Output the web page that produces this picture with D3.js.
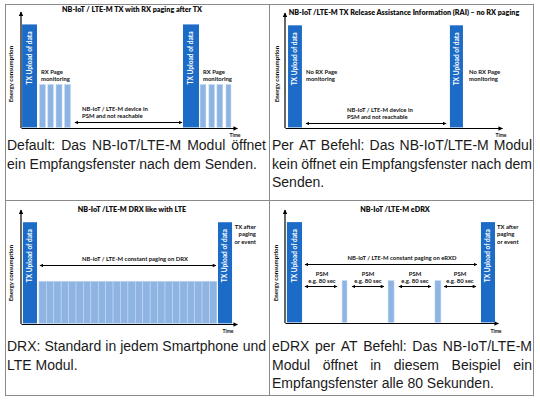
<!DOCTYPE html>
<html><head><meta charset="utf-8">
<script src="https://cdn.jsdelivr.net/npm/d3@7"></script>
<style>body{margin:0;background:#fff}svg{display:block}</style>
</head><body><svg id="c" width="540" height="401"></svg>
<script>
// ---------- data ----------
const titles = [
  "NB-IoT / LTE-M TX with RX paging after TX",
  "NB-IoT /LTE-M TX Release Assistance Information (RAI) \u2013 no RX paging",
  "NB-IoT /LTE-M DRX like with LTE",
  "NB-IoT /LTE-M eDRX"
];
const txEnergy = 100;   // energy level of a TX upload
const rxEnergy = 42;    // energy level of RX paging windows
// time spans [start, end] in % of the time axis
const p1TX = [[0.5, 7.4], [75, 82.4]];
const p1RX = [[8.6, 11.3], [12.4, 15], [16.2, 19], [20.2, 22.9], [82.9, 85.6], [87, 89.6], [90.7, 93.4], [94.9, 97.2]];
const p2TX = [[1.4, 7.8], [76, 82]];
const p2RX = [];
const p3TX = [[0.9, 7.4], [91.2, 97.7]];
const p3RX = [[8.3, 11.73], [11.73, 15.17], [15.17, 18.6], [18.6, 22.03], [22.03, 25.47], [25.47, 28.9],
  [28.9, 32.33], [32.33, 35.77], [35.77, 39.2], [39.2, 42.63], [42.63, 46.07], [46.07, 49.5],
  [49.5, 52.93], [52.93, 56.37], [56.37, 59.8], [59.8, 63.23], [63.23, 66.67], [66.67, 70.1],
  [70.1, 73.53], [73.53, 76.97], [76.97, 80.4], [80.4, 83.83], [83.83, 87.27], [87.27, 90.7]];
const p4TX = [[0.9, 8], [92, 98.6]];
const p4RX = [[26.8, 29.1], [48.4, 51.2], [70.4, 73.2]];
// spans of the double arrows (time %)
const p1Spans = [[24.5, 75]];
const p2Spans = [[9.2, 74.7]];
const p3Spans = [[8.3, 90.7]];
const p4Spans = [[8.9, 90.6]];
const p4PsmSpans = [[8.9, 24.9], [31, 46.9], [53, 69], [74.2, 90.1]];
const txLabel = "TX Upload of data";
const yLabel = "Energy consumption";
const xLabel = "Time";
const captions = [
  ["Default: Das NB-IoT/LTE-M Modul öffnet", "ein Empfangsfenster nach dem Senden."],
  ["Per AT Befehl: Das NB-IoT/LTE-M Modul", "kein öffnet ein Empfangsfenster nach dem", "Senden."],
  ["DRX: Standard in jedem Smartphone und", "LTE Modul."],
  ["eDRX per AT Befehl: Das NB-IoT/LTE-M", "Modul öffnet in diesem Beispiel ein", "Empfangsfenster alle 80 Sekunden."]
];

// ---------- layout ----------
const DARK = "#1c6bc6", LIGHT = "#8db4e2", LIGHT_EDGE = "#c4d8f1";
const FONT = "Lato, 'Open Sans', sans-serif";
const layout = [
  {x0: 21, x1: 237, yBase: 128, yMax: 12, tX: 132, tY: 12, ecX: 13, ecY: 74, tmX: 235, tmY: 137, spanY: [122]},
  {x0: 285, x1: 502, yBase: 128, yMax: 13, tX: 404, tY: 15, ecX: 279, ecY: 74, tmX: 501, tmY: 137, spanY: [123]},
  {x0: 21, x1: 237, yBase: 324, yMax: 210, tX: 132, tY: 212, ecX: 13, ecY: 273, tmX: 228, tmY: 333, spanY: [265]},
  {x0: 285, x1: 498, yBase: 323, yMax: 210, tX: 395, tY: 212, ecX: 278, ecY: 273, tmX: 496, tmY: 333, spanY: [264]}
];
const notes = [
  [{lines: ["RX Page", "monitoring"], x: 41, y: 74, a: "start"},
   {lines: ["RX Page", "monitoring"], x: 203, y: 74, a: "start"},
   {lines: ["NB-IoT / LTE-M device in", "PSM and not reachable"], x: 82, y: 111, a: "start"}],
  [{lines: ["No RX Page", "monitoring"], x: 306, y: 74, a: "start"},
   {lines: ["No RX Page", "monitoring"], x: 469, y: 74, a: "start"},
   {lines: ["NB-IoT / LTE-M device in", "PSM and not reachable"], x: 347, y: 112, a: "start"}],
  [{lines: ["TX after", "paging", "or event"], x: 256, y: 229, a: "end"},
   {lines: ["NB-IoT / LTE-M constant paging on DRX"], x: 135, y: 261, a: "middle"}],
  [{lines: ["TX after", "paging", "or event"], x: 497, y: 229, a: "start"},
   {lines: ["NB-IoT / LTE-M constant paging on eRXD"], x: 402, y: 260, a: "middle"},
   {lines: ["PSM", "e.g. 80 sec"], x: 322, y: 276, a: "middle"},
   {lines: ["PSM", "e.g. 80 sec"], x: 368, y: 276, a: "middle"},
   {lines: ["PSM", "e.g. 80 sec"], x: 415, y: 276, a: "middle"},
   {lines: ["PSM", "e.g. 80 sec"], x: 460, y: 276, a: "middle"}]
];
const panels = [
  {tx: p1TX, rx: p1RX, spans: [p1Spans]},
  {tx: p2TX, rx: p2RX, spans: [p2Spans]},
  {tx: p3TX, rx: p3RX, spans: [p3Spans]},
  {tx: p4TX, rx: p4RX, spans: [p4Spans, p4PsmSpans]}
];
const psmY = 286;

const svg = d3.select("#c");
svg.append("rect").attr("width", 540).attr("height", 401).attr("fill", "#fff");

const defs = svg.append("defs");
function marker(id, small) {
  const s = small ? 0.8 : 1;
  defs.append("marker").attr("id", id).attr("viewBox", "0 0 10 10")
    .attr("refX", 9).attr("refY", 5).attr("markerUnits", "userSpaceOnUse")
    .attr("markerWidth", 5 * s).attr("markerHeight", 4.5 * s).attr("orient", "auto-start-reverse")
    .append("path").attr("d", "M0,0L10,5L0,10z").attr("fill", "#000");
}
marker("ar", false); marker("arS", true);

// table grid
const grid = svg.append("g").attr("stroke", "#8a8a8a").attr("stroke-width", 1).attr("fill", "none");
grid.append("rect").attr("x", 5.5).attr("y", 4.5).attr("width", 528).attr("height", 391);
grid.append("line").attr("x1", 269.5).attr("x2", 269.5).attr("y1", 4.5).attr("y2", 395.5);
grid.append("line").attr("x1", 5.5).attr("x2", 533.5).attr("y1", 200.5).attr("y2", 200.5);

panels.forEach((p, i) => {
  const L = layout[i];
  const g = svg.append("g");
  const x = d3.scaleLinear().domain([0, 100]).range([L.x0, L.x1]);
  const y = d3.scaleLinear().domain([0, 112]).range([L.yBase, L.yMax]);

  // axes via d3 axis generators (domain line only)
  const ax = g.append("g").attr("transform", `translate(0,${L.yBase})`)
    .call(d3.axisBottom(x).tickValues([]).tickSizeOuter(0));
  ax.select(".domain").attr("stroke", "#000").attr("stroke-width", 1.2).attr("marker-end", "url(#ar)");
  const ay = g.append("g").attr("transform", `translate(${L.x0},0)`)
    .call(d3.axisLeft(y).tickValues([]).tickSizeOuter(0));
  ay.select(".domain").attr("d", `M0,${L.yBase}V${L.yMax}`).attr("stroke", "#000")
    .attr("stroke-width", 1.2).attr("marker-end", "url(#ar)");

  // RX bars
  g.selectAll(".rx").data(p.rx).join("rect").attr("class", "rx")
    .attr("x", d => x(d[0])).attr("width", d => x(d[1]) - x(d[0]))
    .attr("y", y(rxEnergy)).attr("height", y(0) - y(rxEnergy) - 0.6)
    .attr("fill", LIGHT).attr("stroke", LIGHT_EDGE).attr("stroke-width", 0.6);

  // TX bars
  g.selectAll(".tx").data(p.tx).join("rect").attr("class", "tx")
    .attr("x", d => x(d[0])).attr("width", d => x(d[1]) - x(d[0]))
    .attr("y", y(txEnergy)).attr("height", y(0) - y(txEnergy) - 0.6)
    .attr("fill", DARK);
  g.selectAll(".txl").data(p.tx).join("text").attr("class", "txl")
    .attr("transform", d => `translate(${(x(d[0]) + x(d[1])) / 2 + 2.2},${y(txEnergy) + 7}) rotate(-90)`)
    .attr("text-anchor", "end").attr("fill", "#fff").attr("font-family", FONT)
    .attr("font-weight", 700).attr("font-size", 6.6).text(txLabel);

  // double arrows
  p.spans.forEach((arr, k) => {
    const yy = k === 0 ? L.spanY[0] : psmY;
    g.selectAll(".sp" + k).data(arr).join("line").attr("class", "sp" + k)
      .attr("x1", d => x(d[0]) + 1).attr("x2", d => x(d[1]) - 1)
      .attr("y1", yy + 0.5).attr("y2", yy + 0.5)
      .attr("stroke", "#000").attr("stroke-width", 1)
      .attr("marker-start", "url(#arS)").attr("marker-end", "url(#arS)");
  });

  // title
  g.append("text").attr("x", L.tX).attr("y", L.tY).attr("text-anchor", "middle")
    .attr("font-family", FONT).attr("font-weight", 800).attr("font-size", 7.2).attr("fill", "#111")
    .text(titles[i]);
  // axis labels
  g.append("text").attr("transform", `translate(${L.ecX},${L.ecY}) rotate(-90)`)
    .attr("text-anchor", "middle").attr("font-family", FONT).attr("font-weight", 700)
    .attr("font-size", 6.2).attr("fill", "#111").text(yLabel);
  g.append("text").attr("x", L.tmX).attr("y", L.tmY).attr("text-anchor", "middle")
    .attr("font-family", FONT).attr("font-weight", 700).attr("font-size", 5).attr("fill", "#111").text(xLabel);

  // notes
  notes[i].forEach(n => {
    const t = g.append("text").attr("font-family", FONT).attr("font-weight", 700)
      .attr("font-size", 5.9).attr("fill", "#111").attr("text-anchor", n.a);
    n.lines.forEach((ln, j) => t.append("tspan").attr("x", n.x).attr("y", n.y + j * 7.3).text(ln));
  });
});

// captions (justified)
const capCols = [[7, 266], [272, 532]];
const capRows = [150, 351];
const LH = 18.5;
captions.forEach((lines, i) => {
  const [xa, xb] = capCols[i % 2];
  const y0 = capRows[Math.floor(i / 2)];
  const g = svg.append("g").attr("font-family", "'Liberation Sans', Arial, sans-serif")
    .attr("font-size", 14).attr("fill", "#1a1a1a");
  lines.forEach((ln, j) => {
    const words = ln.split(" ");
    const yy = y0 + j * LH;
    const last = j === lines.length - 1;
    if (last) { g.append("text").attr("x", xa).attr("y", yy).text(ln); return; }
    const nodes = words.map(w => g.append("text").attr("y", yy).text(w));
    const widths = nodes.map(n => n.node().getComputedTextLength());
    const total = d3.sum(widths);
    const gap = (xb - xa - total) / (words.length - 1);
    let cx = xa;
    nodes.forEach((n, k) => { n.attr("x", cx); cx += widths[k] + gap; });
  });
});
</script></body></html>
